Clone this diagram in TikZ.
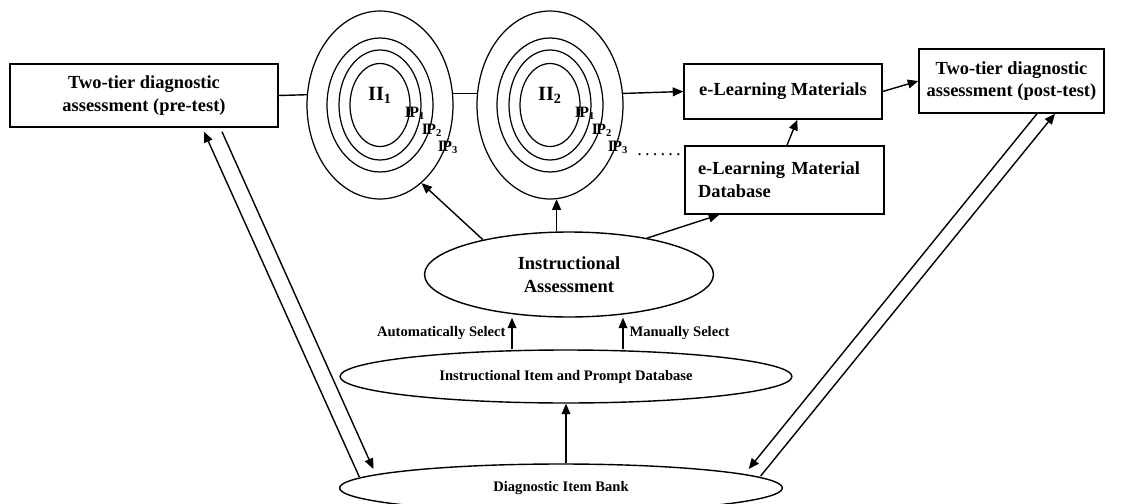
\documentclass[tikz,border=0pt]{standalone}
\usepackage{fontspec}
\setmainfont{Liberation Serif}
\usetikzlibrary{shapes.geometric,arrows.meta}

\begin{document}
\begin{tikzpicture}[x=0.02cm,y=-0.02cm,>={Triangle[length=6pt,width=5pt]},line width=0.8pt]
  \tikzstyle{box}=[rectangle,draw,inner sep=2pt,align=center,font=\fontsize{10.5}{13}\selectfont\bfseries]
  \tikzstyle{oval}=[ellipse,draw,inner sep=0pt,align=center,font=\fontsize{10.5}{13}\selectfont\bfseries]
  \tikzstyle{ring}=[ellipse,draw,inner sep=0pt,line width=0.7pt]
  \tikzstyle{small}=[font=\fontsize{8.3}{10}\selectfont\bfseries]
  \tikzstyle{ip}=[inner sep=0pt,font=\fontsize{9}{10}\selectfont\bfseries]

  \useasboundingbox (0,0) rectangle (1137,504);

  \begin{scope}

    % tests
    \node [box,minimum width=5.36cm,minimum height=1.26cm] (pre) at (144,95.5)
      {Two-tier diagnostic\\assessment (pre-test)};
    \node [box,minimum width=3.7cm,minimum height=1.28cm] (post) at (1011.5,81)
      {Two-tier diagnostic\\assessment (post-test)};

    % first instructional item with its prompts
    \node [ring,minimum width=2.92cm,minimum height=3.76cm] (ring1a) at (380,105) {};
    \node [ring,minimum width=2.12cm,minimum height=2.68cm] (ring1b) at (380,105) {};
    \node [ring,minimum width=1.64cm,minimum height=2.2cm] (ring1c) at (380,105) {};
    \node [ring,minimum width=1.2cm,minimum height=1.66cm] (ring1d) at (380,105) {};
    \node [ip,font=\fontsize{11.5}{12}\selectfont\bfseries] (ii1) at (380,95) {II\textsubscript{1}};
    \node [ip] (ip11) at (415,113) {I\kern-0.1em P\textsubscript{1}};
    \node [ip] (ip12) at (432,130) {I\kern-0.1em P\textsubscript{2}};
    \node [ip] (ip13) at (448,147) {I\kern-0.1em P\textsubscript{3}};

    % second instructional item with its prompts
    \node [ring,minimum width=2.92cm,minimum height=3.76cm] (ring2a) at (550,105) {};
    \node [ring,minimum width=2.12cm,minimum height=2.68cm] (ring2b) at (550,105) {};
    \node [ring,minimum width=1.64cm,minimum height=2.2cm] (ring2c) at (550,105) {};
    \node [ring,minimum width=1.2cm,minimum height=1.66cm] (ring2d) at (550,105) {};
    \node [ip,font=\fontsize{11.5}{12}\selectfont\bfseries] (ii2) at (550,95) {II\textsubscript{2}};
    \node [ip] (ip21) at (585,113) {I\kern-0.1em P\textsubscript{1}};
    \node [ip] (ip22) at (602,130) {I\kern-0.1em P\textsubscript{2}};
    \node [ip] (ip23) at (618,147) {I\kern-0.1em P\textsubscript{3}};

    \node [ip,font=\fontsize{10.5}{12}\selectfont] (dots) at (659,155)
      {.\kern1.8pt.\kern1.8pt.\kern1.8pt.\kern1.8pt.\kern1.8pt.};

    % materials
    \node [box,minimum width=3.96cm,minimum height=1.1cm] (mat) at (783,91.5) {e-Learning Materials};
    \node [box,minimum height=1.36cm,inner xsep=0.26cm,text width=3.46cm,align=left] (matdb) at (784.5,180)
      {e-Learning Material\\Database};

    % databases
    \node [oval,minimum width=5.78cm,minimum height=1.7cm] (assess) at (569,274.5)
      {Instructional\\Assessment};
    \node [oval,small,minimum width=9.04cm,minimum height=1.06cm] (itemdb) at (566,376.5)
      {Instructional Item and Prompt Database};
    \node [oval,small,minimum width=8.86cm,minimum height=0.96cm] (bank) at (561,488)
      {Diagnostic Item Bank};

    % connectors
    \draw (pre.east) -- (ring1a.172);
    \draw (ring1a.9) -- (ring2a.171);
    \draw [->] (ring2a.9) -- (mat.west);
    \draw [->] (mat.east) -- (post.west);
    \draw [->] (matdb.86) -- (mat.-63);

    \draw [->] (assess.158) -- (ring1a.-62);
    \draw [->] (ring2a.-86 |- assess.north) -- (ring2a.-86);
    \draw [->] (assess.25) -- (matdb.-152);

    \draw [->] ([xshift=-1.08cm]itemdb.north) -- ([xshift=-1.08cm]itemdb.north |- assess.south)
      node [small,midway,left] {Automatically Select};
    \draw [->] ([xshift=1.14cm]itemdb.north) -- ([xshift=1.14cm]itemdb.north |- assess.south)
      node [small,midway,right] {Manually Select};
    \draw [->] (bank.north -| itemdb.south) -- (itemdb.south);

    \draw [->] ([xshift=0.41cm,yshift=0.22cm]bank.west) -- ([xshift=1.2cm,yshift=-0.08cm]pre.south);
    \draw [->] ([xshift=1.56cm,yshift=-0.08cm]pre.south) -- ([xshift=0.69cm,yshift=0.38cm]bank.west);
    \draw [->] ([xshift=0.51cm]post.south) -- ([xshift=-0.69cm,yshift=0.38cm]bank.east);
    \draw [->] ([xshift=-0.45cm,yshift=0.24cm]bank.east) -- ([xshift=0.87cm]post.south);
  \end{scope}
\end{tikzpicture}
\end{document}
